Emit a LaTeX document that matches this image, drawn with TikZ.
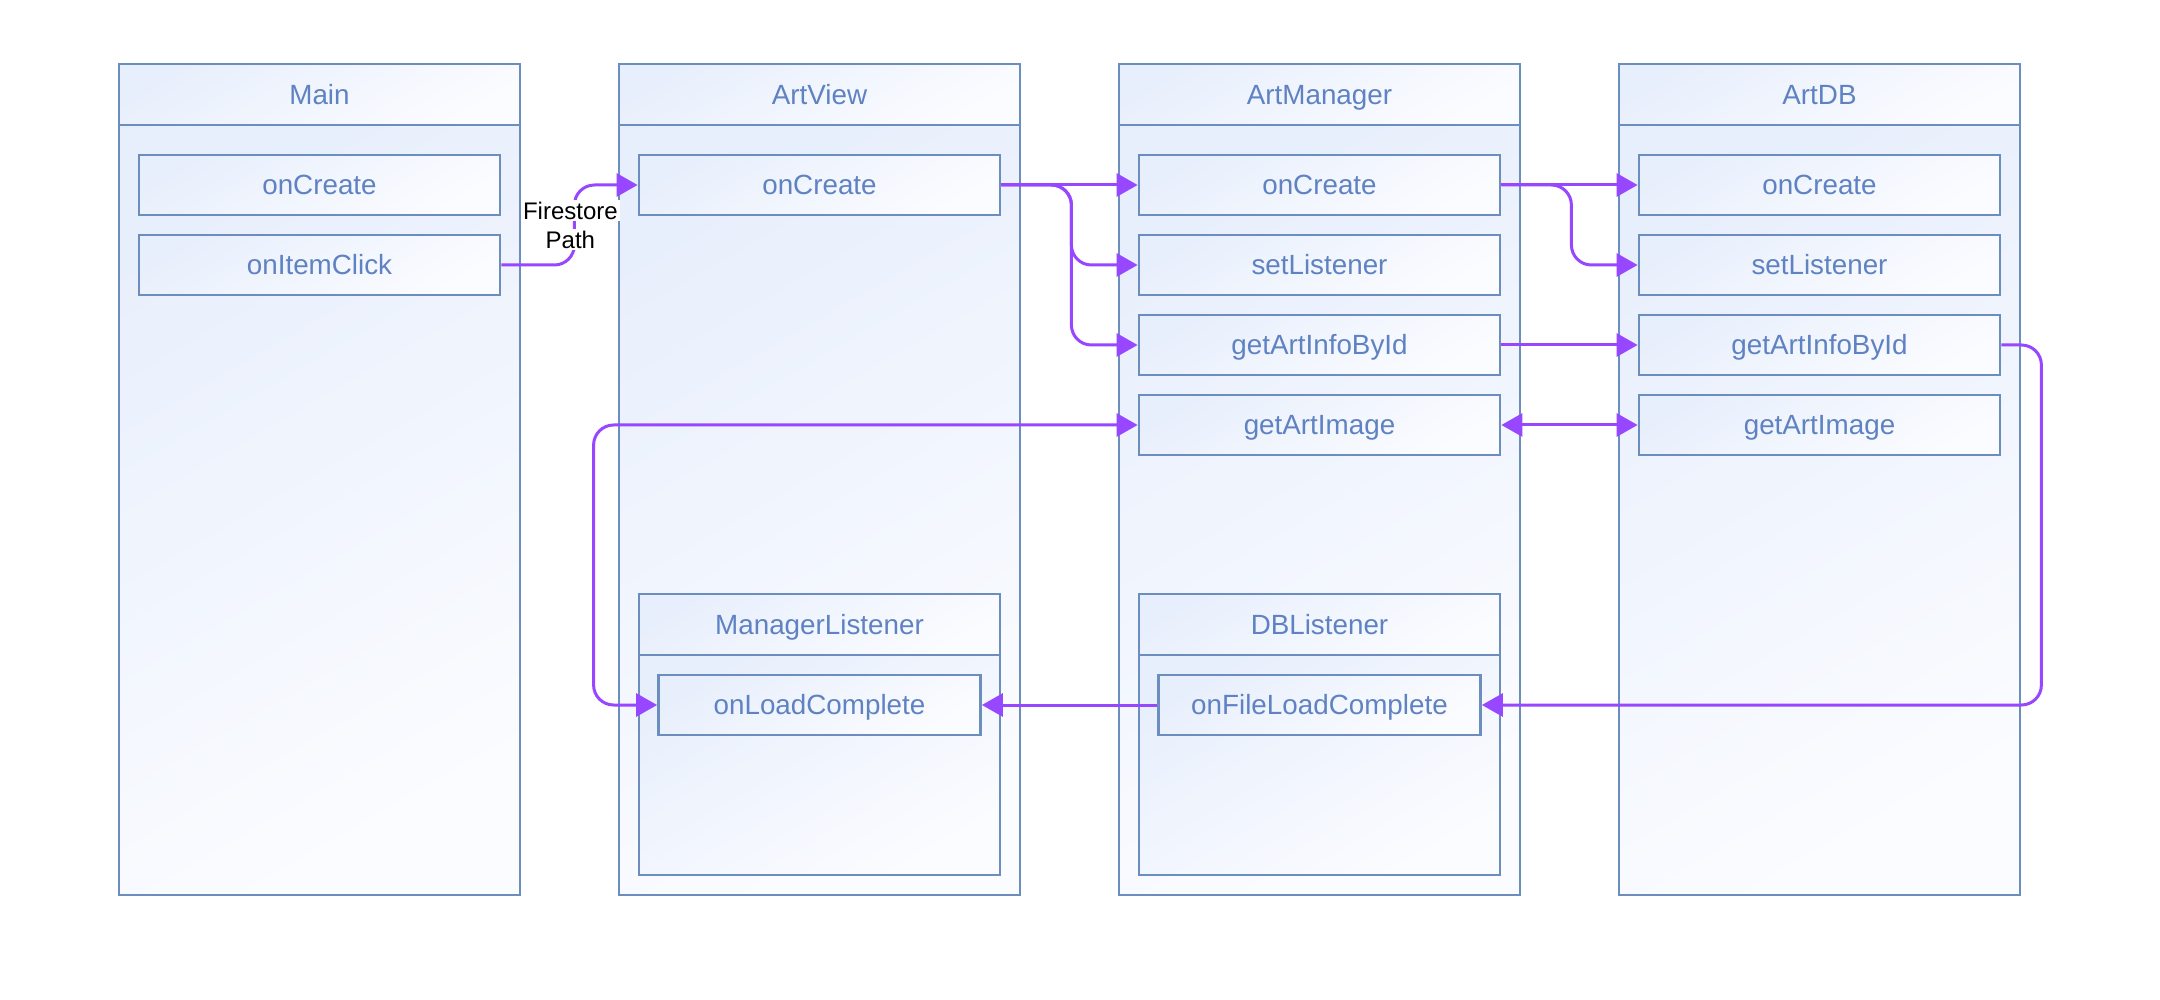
\documentclass[tikz,border=0pt]{standalone}
\usepackage{fontspec}
\setmainfont{Liberation Sans}
\usetikzlibrary{arrows.meta}
\definecolor{bstroke}{HTML}{6C8EBF}
\definecolor{btext}{HTML}{5F82C2}
\definecolor{fillA}{HTML}{E8EFFC}
\definecolor{fillB}{HTML}{FBFCFF}
\definecolor{purp}{HTML}{9747FF}
\setlength{\fboxsep}{1pt}
\tikzset{
  base/.style={draw=bstroke, line width=1.4pt, top color=fillA, bottom color=fillB, shading angle=30,
    text=btext, font=\fontsize{13.9}{16}\selectfont, inner sep=0pt, text height=9.9pt, text depth=0pt},
  colhdr/.style={base, minimum width=200.5pt, minimum height=30.5pt},
  colbody/.style={base, minimum width=200.5pt, minimum height=385pt},
  meth/.style={base, minimum width=180.5pt, minimum height=30pt},
  lsnhdr/.style={base, minimum width=180.5pt, minimum height=30.5pt},
  lsnbody/.style={base, minimum width=180.5pt, minimum height=110pt},
  lsnmeth/.style={base, minimum width=161pt, minimum height=30pt},
  flow/.style={draw=purp, line width=1.5pt, rounded corners=10pt, -{Triangle[length=10.5pt,width=11.5pt]}},
  both/.style={flow, {Triangle[length=10.5pt,width=11.5pt]}-{Triangle[length=10.5pt,width=11.5pt]}},
  lbl/.style={font=\fontsize{12}{14.5}\selectfont, text=black, align=center, inner sep=0pt},
}
\begin{document}
\begin{tikzpicture}[x=0.5pt,y=-0.5pt]
\fill[white] (0,0) rectangle (2160,1000);
\useasboundingbox (0,0) rectangle (2160,1000);

% columns
\node[colbody] (main) at (319.5,510) {};
\node[colhdr] (mainH) at (319.5,94.5) {Main};
\node[colbody] (view) at (819.5,510) {};
\node[colhdr] (viewH) at (819.5,94.5) {ArtView};
\node[colbody] (mgr) at (1319.5,510) {};
\node[colhdr] (mgrH) at (1319.5,94.5) {ArtManager};
\node[colbody] (db) at (1819.5,510) {};
\node[colhdr] (dbH) at (1819.5,94.5) {ArtDB};

% methods
\node[meth] (mcreate) at (319.5,185) {onCreate};
\node[meth] (mclick) at (319.5,265) {onItemClick};
\node[meth] (vcreate) at (819.5,185) {onCreate};
\node[meth] (acreate) at (1319.5,185) {onCreate};
\node[meth] (aset) at (1319.5,265) {setListener};
\node[meth] (ainfo) at (1319.5,345) {getArtInfoById};
\node[meth] (aimage) at (1319.5,425) {getArtImage};
\node[meth] (dcreate) at (1819.5,185) {onCreate};
\node[meth] (dset) at (1819.5,265) {setListener};
\node[meth] (dinfo) at (1819.5,345) {getArtInfoById};
\node[meth] (dimage) at (1819.5,425) {getArtImage};

% listeners
\node[lsnbody] (ml) at (819.5,765) {};
\node[lsnhdr] (mlH) at (819.5,624.5) {ManagerListener};
\node[lsnmeth] (onload) at (819.5,705) {onLoadComplete};
\node[lsnbody] (dl) at (1319.5,765) {};
\node[lsnhdr] (dlH) at (1319.5,624.5) {DBListener};
\node[lsnmeth] (onfile) at (1319.5,705) {onFileLoadComplete};

% connectors
\draw[flow] (mclick.east) -- ++(73,0) |- node[lbl,pos=0.25,xshift=-2pt]{\colorbox{white}{Firestore}\\\colorbox{white}{Path}} (vcreate.west);
\draw[flow] (vcreate.east) -- (acreate.west);
\draw[flow] (vcreate.east) -- ++(70,0) |- (aset.west);
\draw[flow] (vcreate.east) -- ++(70,0) |- (ainfo.west);
\draw[flow] (acreate.east) -- (dcreate.west);
\draw[flow] (acreate.east) -- ++(70,0) |- (dset.west);
\draw[flow] (ainfo.east) -- (dinfo.west);
\draw[both] (aimage.east) -- (dimage.west);
\draw[flow] (dinfo.east) -- ++(40,0) |- (onfile.east);
\draw[flow] (onfile.west) -- (onload.east);
\draw[both] (aimage.west) -- ++(-544,0) |- (onload.west);
\end{tikzpicture}
\end{document}
